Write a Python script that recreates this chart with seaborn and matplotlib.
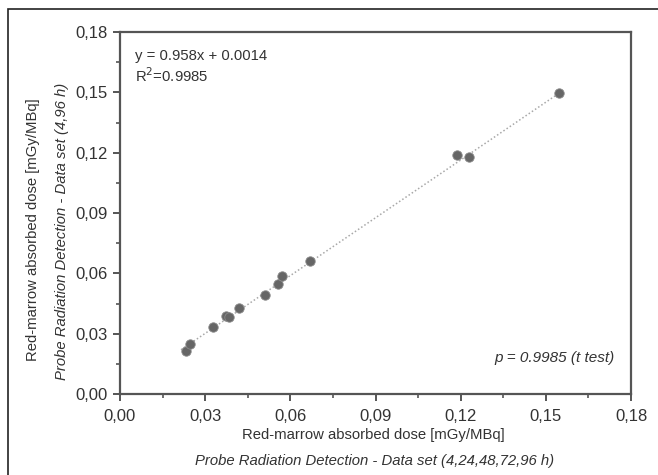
import numpy as np
import pandas as pd
import seaborn as sns
import matplotlib.pyplot as plt
from matplotlib.ticker import MultipleLocator, FuncFormatter
from matplotlib.patches import Rectangle

# data
x_vals = [0.0231, 0.0247, 0.0329, 0.0372, 0.0385, 0.0420, 0.0511, 0.0555,
          0.0571, 0.0671, 0.1188, 0.1229, 0.1547]
y_vals = [0.0214, 0.0247, 0.0332, 0.0387, 0.0382, 0.0429, 0.0491, 0.0546,
          0.0589, 0.0660, 0.1188, 0.1178, 0.1497]
slope = 0.958
intercept = 0.0014
fit_x = [0.0215, 0.1547]
eq_text = "y = 0.958x + 0.0014"
r2_text = "R$^2$=0.9985"
p_text = "p = 0.9985 (t test)"
xlabel1 = "Red-marrow absorbed dose [mGy/MBq]"
xlabel2 = "Probe Radiation Detection - Data set (4,24,48,72,96 h)"
ylabel1 = "Red-marrow absorbed dose [mGy/MBq]"
ylabel2 = "Probe Radiation Detection - Data set (4,96 h)"

sns.set_theme(style="white")
plt.rcParams['font.family'] = ['Liberation Sans', 'DejaVu Sans']

df = pd.DataFrame({"x": x_vals, "y": y_vals})
fx = np.array(fit_x)
fit_df = pd.DataFrame({"x": fx, "y": slope * fx + intercept})

fig = plt.figure(figsize=(6.58, 4.75), dpi=100)
W, H = 658, 475
ax = fig.add_axes([120 / W, 1 - 394 / H, (631 - 120) / W, (394 - 32) / H])

sns.lineplot(data=fit_df, x="x", y="y", ax=ax, color="#a8a8a8",
             linestyle=(0, (1, 1.5)), linewidth=1.1)
sns.scatterplot(data=df, x="x", y="y", ax=ax, color="#666666", s=46,
                edgecolor="#8a8a8a", linewidth=0.6, zorder=3)

ax.set_xlim(0, 0.18)
ax.set_ylim(0, 0.18)
ax.xaxis.set_major_locator(MultipleLocator(0.03))
ax.yaxis.set_major_locator(MultipleLocator(0.03))
ax.xaxis.set_minor_locator(MultipleLocator(0.015))
ax.yaxis.set_minor_locator(MultipleLocator(0.015))
fmt = FuncFormatter(lambda v, p: f"{v:.2f}".replace(".", ","))
ax.xaxis.set_major_formatter(fmt)
ax.yaxis.set_major_formatter(fmt)
ax.tick_params(which="major", direction="out", length=5, width=1.4,
               color="#555555", labelsize=12, labelcolor="#333333", pad=4)
ax.tick_params(axis="x", which="major", pad=6)
ax.tick_params(which="minor", direction="out", length=3, width=1.2,
               color="#555555")
ax.tick_params(axis="x", bottom=True, which="both")
ax.tick_params(axis="y", left=True, which="both")
for s in ax.spines.values():
    s.set_color("#555555")
    s.set_linewidth(1.6)

ax.set_xlabel("")
ax.set_ylabel("")

ax.text(0.03, 0.935, eq_text, transform=ax.transAxes, fontsize=10.7,
        color="#333333", ha="left", va="center")
ax.text(0.03, 0.88, r2_text, transform=ax.transAxes, fontsize=10.7,
        color="#333333", ha="left", va="center")
ax.text(0.967, 0.10, p_text, transform=ax.transAxes, fontsize=11,
        color="#333333", ha="right", va="center", style="italic")

fig.text(373 / W, 1 - 435 / H, xlabel1, ha="center", va="center",
         fontsize=10.7, color="#333333")
fig.text(375 / W, 1 - 461 / H, xlabel2, ha="center", va="center",
         fontsize=10.7, color="#333333", style="italic")
fig.text(33 / W, 1 - 230 / H, ylabel1, ha="center", va="center",
         fontsize=10.7, color="#333333", rotation=90)
fig.text(62 / W, 1 - 231 / H, ylabel2, ha="center", va="center",
         fontsize=10.7, color="#333333", rotation=90, style="italic")

fig.patches.append(Rectangle((8 / W, -0.05), 1.0, 1 - 9 / H + 0.05,
                             transform=fig.transFigure, fill=False,
                             edgecolor="#222222", linewidth=1.2))

fig.savefig("out.png", dpi=100)
